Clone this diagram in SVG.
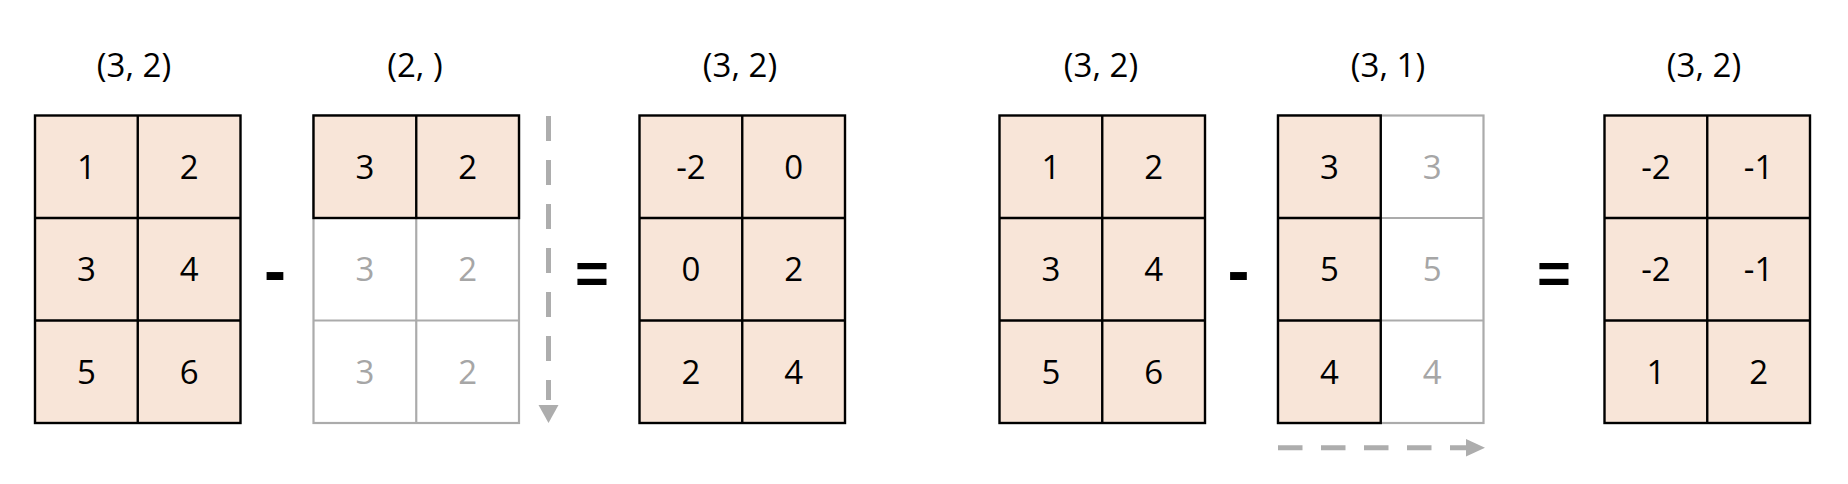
<svg xmlns="http://www.w3.org/2000/svg" width="1848" height="484" viewBox="0 0 1848 484">
<style>
  .fill { fill: #F8E5D8; }
  .bk { stroke: #000000; stroke-width: 2.4; fill: none; }
  .gy { stroke: #ABABAB; stroke-width: 2.2; fill: none; }
  .lbl { font-family: "Open Sans", "Liberation Sans", sans-serif; font-size: 33px; fill: #000000; text-anchor: middle; }
  .num { font-family: "Open Sans", "Liberation Sans", sans-serif; font-size: 33px; fill: #000000; text-anchor: middle; }
  .num.g { fill: #A6A6A6; }
  .op { font-family: "Liberation Sans", Arial, sans-serif; font-weight: bold; fill: #000000; text-anchor: middle; }
  .dash { stroke: #ADADAD; stroke-width: 5; fill: none; }
  .head { fill: #ADADAD; }
</style>
<rect width="1848" height="484" fill="#FFFFFF"/>

<!-- Matrix 1 -->
<g id="m1">
  <text class="lbl" x="134" y="76.7">(3, 2)</text>
  <rect class="fill" x="35" y="115.5" width="205.5" height="307.5"/>
  <rect class="bk" x="35" y="115.5" width="205.5" height="307.5"/>
  <path class="bk" d="M137.75 115.5V423M35 218H240.5M35 320.5H240.5"/>
  <text class="num" x="86.4" y="178.5">1</text><text class="num" x="189.1" y="178.5">2</text>
  <text class="num" x="86.4" y="281">3</text><text class="num" x="189.1" y="281">4</text>
  <text class="num" x="86.4" y="383.5">5</text><text class="num" x="189.1" y="383.5">6</text>
</g>

<g id="op-minus-1"><text class="op" x="275" y="292.5" font-size="66">-</text></g>

<!-- Matrix 2 -->
<g id="m2">
  <text class="lbl" x="415" y="76.7">(2, )</text>
  <rect class="gy" x="313.5" y="115.5" width="205.5" height="307.5"/>
  <path class="gy" d="M416.25 218V423M313.5 320.5H519"/>
  <rect class="fill" x="313.5" y="115.5" width="205.5" height="102.5"/>
  <rect class="bk" x="313.5" y="115.5" width="205.5" height="102.5"/>
  <path class="bk" d="M416.25 115.5V218"/>
  <text class="num" x="364.9" y="178.5">3</text><text class="num" x="467.6" y="178.5">2</text>
  <text class="num g" x="364.9" y="281">3</text><text class="num g" x="467.6" y="281">2</text>
  <text class="num g" x="364.9" y="383.5">3</text><text class="num g" x="467.6" y="383.5">2</text>
</g>

<g id="op-equals-1"><text class="op" x="592" y="293" font-size="58">=</text></g>

<!-- Matrix 3 -->
<g id="m3">
  <text class="lbl" x="740" y="76.7">(3, 2)</text>
  <rect class="fill" x="639.5" y="115.5" width="205.5" height="307.5"/>
  <rect class="bk" x="639.5" y="115.5" width="205.5" height="307.5"/>
  <path class="bk" d="M742.25 115.5V423M639.5 218H845M639.5 320.5H845"/>
  <text class="num" x="690.9" y="178.5">-2</text><text class="num" x="793.6" y="178.5">0</text>
  <text class="num" x="690.9" y="281">0</text><text class="num" x="793.6" y="281">2</text>
  <text class="num" x="690.9" y="383.5">2</text><text class="num" x="793.6" y="383.5">4</text>
</g>

<!-- Matrix 4 -->
<g id="m4">
  <text class="lbl" x="1101" y="76.7">(3, 2)</text>
  <rect class="fill" x="999.5" y="115.5" width="205.5" height="307.5"/>
  <rect class="bk" x="999.5" y="115.5" width="205.5" height="307.5"/>
  <path class="bk" d="M1102.25 115.5V423M999.5 218H1205M999.5 320.5H1205"/>
  <text class="num" x="1050.9" y="178.5">1</text><text class="num" x="1153.6" y="178.5">2</text>
  <text class="num" x="1050.9" y="281">3</text><text class="num" x="1153.6" y="281">4</text>
  <text class="num" x="1050.9" y="383.5">5</text><text class="num" x="1153.6" y="383.5">6</text>
</g>

<g id="op-minus-2"><text class="op" x="1238.5" y="292.5" font-size="66">-</text></g>

<!-- Matrix 5 -->
<g id="m5">
  <text class="lbl" x="1388" y="76.7">(3, 1)</text>
  <rect class="gy" x="1278" y="115.5" width="205.5" height="307.5"/>
  <path class="gy" d="M1380.75 218H1483.5M1380.75 320.5H1483.5"/>
  <rect class="fill" x="1278" y="115.5" width="102.75" height="307.5"/>
  <rect class="bk" x="1278" y="115.5" width="102.75" height="307.5"/>
  <path class="bk" d="M1278 218H1380.75M1278 320.5H1380.75"/>
  <text class="num" x="1329.4" y="178.5">3</text><text class="num g" x="1432.1" y="178.5">3</text>
  <text class="num" x="1329.4" y="281">5</text><text class="num g" x="1432.1" y="281">5</text>
  <text class="num" x="1329.4" y="383.5">4</text><text class="num g" x="1432.1" y="383.5">4</text>
</g>

<g id="op-equals-2"><text class="op" x="1554" y="293" font-size="58">=</text></g>

<!-- Matrix 6 -->
<g id="m6">
  <text class="lbl" x="1704" y="76.7">(3, 2)</text>
  <rect class="fill" x="1604.5" y="115.5" width="205.5" height="307.5"/>
  <rect class="bk" x="1604.5" y="115.5" width="205.5" height="307.5"/>
  <path class="bk" d="M1707.25 115.5V423M1604.5 218H1810M1604.5 320.5H1810"/>
  <text class="num" x="1655.9" y="178.5">-2</text><text class="num" x="1758.6" y="178.5">-1</text>
  <text class="num" x="1655.9" y="281">-2</text><text class="num" x="1758.6" y="281">-1</text>
  <text class="num" x="1655.9" y="383.5">1</text><text class="num" x="1758.6" y="383.5">2</text>
</g>

<!-- Connectors: broadcast arrows -->
<g id="connectors">
  <path class="dash" d="M548.5 116V400" stroke-dasharray="25 19"/>
  <polygon class="head" points="538.5,405 558.5,405 548.5,423"/>
  <path class="dash" d="M1278 447.8H1468" stroke-dasharray="24.5 18.5"/>
  <polygon class="head" points="1466,439 1485,447.8 1466,456.5"/>
</g>
</svg>
